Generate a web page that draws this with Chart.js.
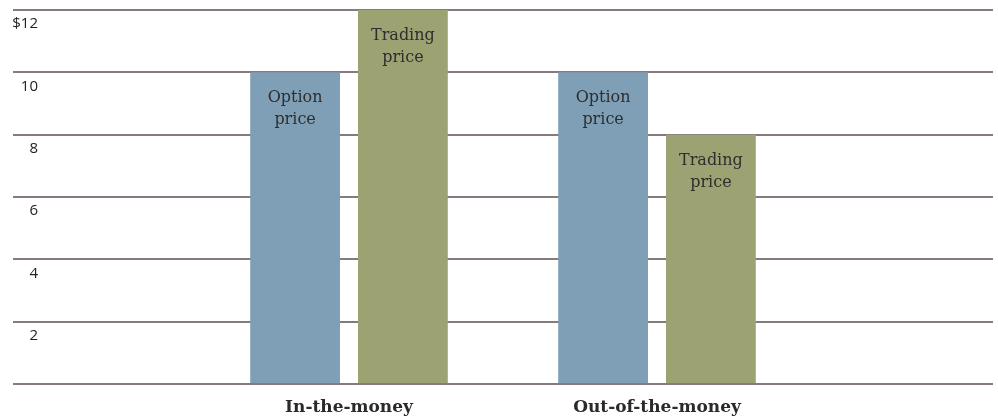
<!DOCTYPE html>
<html>
<head>
<meta charset="utf-8">
<title>Option price vs trading price</title>
<script src="https://cdn.jsdelivr.net/npm/chart.js@4/dist/chart.umd.min.js"></script>
<style>
  html, body { margin: 0; padding: 0; background: #fff; }
  #wrap { position: relative; width: 998px; height: 418px; }
</style>
</head>
<body>
<div id="wrap"><canvas id="chart"></canvas></div>
<script>
  'use strict';

  // data
  const categories = ['In-the-money', 'Out-of-the-money'];
  const optionPrice = [10, 10];
  const tradingPrice = [12, 8];
  const seriesNames = ['Option price', 'Trading price'];
  const yTickValues = [0, 2, 4, 6, 8, 10, 12];
  const yTickLabels = ['', '2', '4', '6', '8', '10', '$12'];

  const gridColor = '#857b7b';
  const serif = '"DejaVu Serif", serif';

  // two-line label near the top of each bar
  const barText = {
    id: 'barText',
    afterDatasetsDraw(chart) {
      const ctx = chart.ctx;
      ctx.save();
      ctx.font = '16px ' + serif;
      ctx.fillStyle = '#2e2e2e';
      ctx.textAlign = 'center';
      ctx.textBaseline = 'alphabetic';
      chart.data.datasets.forEach((ds, i) => {
        const lines = ds.label.split(' ');
        chart.getDatasetMeta(i).data.forEach(bar => {
          lines.forEach((line, j) => ctx.fillText(line, bar.x, bar.y + 30 + j * 22));
        });
      });
      ctx.restore();
    }
  };

  const setTicks = scale => { scale.ticks = yTickValues.map(v => ({ value: v })); };

  new Chart(document.getElementById('chart'), {
    type: 'bar',
    data: {
      labels: categories,
      datasets: [
        { label: seriesNames[0], data: optionPrice, backgroundColor: '#7f9fb7' },
        { label: seriesNames[1], data: tradingPrice, backgroundColor: '#9ca271' }
      ]
    },
    options: {
      responsive: true,
      maintainAspectRatio: false,
      animation: false,
      layout: { padding: { top: 10, bottom: 0, left: 0, right: 0 } },
      categoryPercentage: 0.70,
      barPercentage: 0.833,
      plugins: {
        legend: { display: false },
        tooltip: { enabled: false }
      },
      scales: {
        x: {
          offset: true,
          afterFit(scale) { scale.height = 34; },
          grid: { display: false, drawTicks: false },
          border: { display: false },
          ticks: {
            color: '#2a2a2a',
            padding: 13,
            font: { family: serif, size: 17, weight: 'bold' }
          }
        },
        y: {
          position: 'left',
          min: 0,
          max: 12,
          afterBuildTicks: setTicks,
          afterFit(scale) { scale.width = 195; },
          border: { display: false },
          grid: { color: gridColor, lineWidth: 2, tickLength: 182, drawTicks: true },
          ticks: {
            color: '#222',
            padding: -25,
            labelOffset: 14,
            font: { family: '"Open Sans", sans-serif', size: 15 },
            callback: (v, i) => yTickLabels[i]
          }
        },
        y2: {
          position: 'right',
          min: 0,
          max: 12,
          afterBuildTicks: setTicks,
          afterFit(scale) { scale.width = 187; },
          border: { display: false },
          grid: { color: gridColor, lineWidth: 2, tickLength: 182, drawOnChartArea: false },
          ticks: { display: false }
        }
      }
    },
    plugins: [barText]
  });
</script>
</body>
</html>
